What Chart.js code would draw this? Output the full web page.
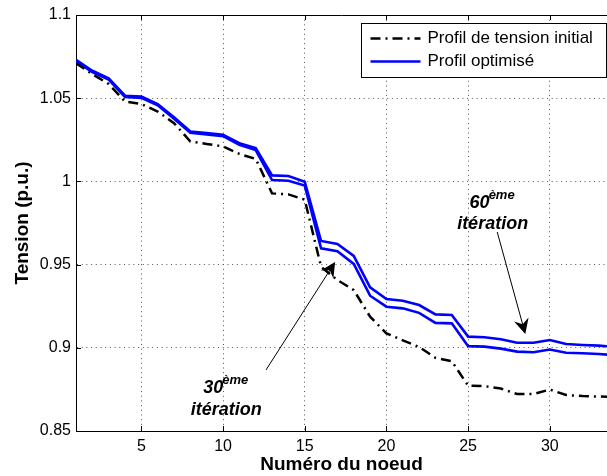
<!DOCTYPE html>
<html>
<head>
<meta charset="utf-8">
<title>Profil de tension</title>
<script src="https://cdn.jsdelivr.net/npm/chart.js@4.4.0/dist/chart.umd.min.js"></script>
<style>
  html, body { margin: 0; padding: 0; background: #fff; }
  #wrap { width: 607px; height: 476px; }
</style>
</head>
<body>
<div id="wrap"><canvas id="chart" width="607" height="476"></canvas></div>
<script>
// Numéro du noeud
const nodes = [1, 2, 3, 4, 5, 6, 7, 8, 9, 10, 11, 12, 13, 14, 15, 16, 17,
               18, 19, 20, 21, 22, 23, 24, 25, 26, 27, 28, 29, 30, 31, 32, 33, 34];

// Profil de tension initial (p.u.)
const initialProfile = [1.0710, 1.0645, 1.0585, 1.0480, 1.0465, 1.0420, 1.0350, 1.0240, 1.0225, 1.0210,
                        1.0165, 1.0135, 0.9928, 0.9922, 0.9890, 0.9487, 0.9407, 0.9347, 0.9187, 0.9087,
                        0.9045, 0.9005, 0.8940, 0.8920, 0.8772, 0.8770, 0.8755, 0.8722, 0.8722, 0.8749,
                        0.8716, 0.8710, 0.8707, 0.8705];

// Profil optimisé, 30ème itération
const optim30 = [1.0722, 1.0657, 1.0612, 1.0507, 1.0502, 1.0457, 1.0377, 1.0292, 1.0282, 1.0272,
                 1.0220, 1.0188, 1.0008, 1.0004, 0.9975, 0.9598, 0.9580, 0.9504, 0.9313, 0.9247,
                 0.9237, 0.9210, 0.9150, 0.9147, 0.9010, 0.9007, 0.8995, 0.8977, 0.8973, 0.8990,
                 0.8970, 0.8967, 0.8963, 0.8955];

// Profil optimisé, 60ème itération
const optim60 = [1.0730, 1.0665, 1.0620, 1.0515, 1.0510, 1.0465, 1.0385, 1.0300, 1.0290, 1.0280,
                 1.0230, 1.0200, 1.0036, 1.0032, 0.9998, 0.9642, 0.9624, 0.9552, 0.9363, 0.9293,
                 0.9283, 0.9257, 0.9201, 0.9197, 0.9067, 0.9063, 0.9051, 0.9030, 0.9030, 0.9047,
                 0.9023, 0.9017, 0.9013, 0.9005];

const xTicks = [5, 10, 15, 20, 25, 30];
const yTicks = [0.85, 0.9, 0.95, 1, 1.05, 1.1];
const yTickLabels = ['0.85', '0.9', '0.95', '1', '1.05', '1.1'];

// annotations (en coordonnées de données)
const notes = [
  { num: '60', text: 'itération', x: 26.5, yNum: 0.987, yText: 0.9744, from: [26.78, 0.9696], to: [28.5, 0.9083] },
  { num: '30', text: 'itération', x: 10.19, yNum: 0.8758, yText: 0.8626, from: [12.63, 0.8867], to: [16.86, 0.9516] }
];

const FONT = "'Liberation Sans', Arial, Helvetica, sans-serif";
Chart.defaults.font.family = FONT;
Chart.defaults.color = '#000';

function pts(ys) {
    return nodes.map((n, i) => ({ x: n, y: ys[i] }));
}

// cadre haut + graduations intérieures façon MATLAB
const boxPlugin = {
    id: 'matlabBox',
    afterDatasetsDraw(chart) {
        const ctx = chart.ctx, a = chart.chartArea;
        const xs = chart.scales.x, ys = chart.scales.y;
        ctx.save();
        ctx.strokeStyle = '#000';
        ctx.lineWidth = 1;
        ctx.beginPath();
        ctx.moveTo(a.left, a.top + 0.5);
        ctx.lineTo(a.right, a.top + 0.5);
        xTicks.forEach(v => {
            const px = Math.round(xs.getPixelForValue(v)) + 0.5;
            ctx.moveTo(px, a.bottom);
            ctx.lineTo(px, a.bottom - 5);
            ctx.moveTo(px, a.top);
            ctx.lineTo(px, a.top + 5);
        });
        yTicks.forEach(v => {
            const py = Math.round(ys.getPixelForValue(v)) + 0.5;
            ctx.moveTo(a.left, py);
            ctx.lineTo(a.left + 5, py);
        });
        ctx.stroke();
        ctx.restore();
    }
};

// flèches + textes "60ème itération" / "30ème itération"
const notePlugin = {
    id: 'notes',
    afterDatasetsDraw(chart) {
        const ctx = chart.ctx;
        const xs = chart.scales.x, ys = chart.scales.y;
        ctx.save();
        notes.forEach(n => {
            const x1 = xs.getPixelForValue(n.from[0]), y1 = ys.getPixelForValue(n.from[1]);
            const x2 = xs.getPixelForValue(n.to[0]), y2 = ys.getPixelForValue(n.to[1]);
            const ang = Math.atan2(y2 - y1, x2 - x1);
            const c = Math.cos(ang), s = Math.sin(ang);
            ctx.strokeStyle = '#000';
            ctx.lineWidth = 1;
            ctx.beginPath();
            ctx.moveTo(x1, y1);
            ctx.lineTo(x2 - 8 * c, y2 - 8 * s);
            ctx.stroke();
            // tête de flèche (vback2)
            const L = 15, W = 7.5, back = 10;
            ctx.fillStyle = '#000';
            ctx.beginPath();
            ctx.moveTo(x2, y2);
            ctx.lineTo(x2 - L * c + W * s, y2 - L * s - W * c);
            ctx.lineTo(x2 - back * c, y2 - back * s);
            ctx.lineTo(x2 - L * c - W * s, y2 - L * s + W * c);
            ctx.closePath();
            ctx.fill();

            // texte
            const cx = xs.getPixelForValue(n.x);
            ctx.textBaseline = 'middle';
            ctx.font = 'bold italic 18px ' + FONT;
            const wNum = ctx.measureText(n.num).width;
            ctx.font = 'bold italic 13px ' + FONT;
            const wSup = ctx.measureText('ème').width;
            const start = cx - (wNum + wSup) / 2;
            const yNum = ys.getPixelForValue(n.yNum);
            ctx.textAlign = 'left';
            ctx.font = 'bold italic 18px ' + FONT;
            ctx.fillText(n.num, start, yNum);
            ctx.font = 'bold italic 13px ' + FONT;
            ctx.fillText('ème', start + wNum - 1, yNum - 8);
            ctx.textAlign = 'center';
            ctx.font = 'bold italic 18px ' + FONT;
            ctx.fillText(n.text, cx, ys.getPixelForValue(n.yText));
        });
        ctx.restore();
    }
};

// légende encadrée dans le coin haut-droit
const legendPlugin = {
    id: 'boxLegend',
    afterDraw(chart) {
        const ctx = chart.ctx, a = chart.chartArea;
        const items = chart.data.datasets.filter(d => !d.hideInLegend);
        const w = 245, h = 54;
        const x0 = a.right - w - 0.5, y0 = a.top + 8.5;
        ctx.save();
        ctx.fillStyle = '#fff';
        ctx.fillRect(x0, y0, w, h);
        ctx.strokeStyle = '#000';
        ctx.lineWidth = 1;
        ctx.strokeRect(x0, y0, w, h);
        ctx.font = '17px ' + FONT;
        ctx.textBaseline = 'middle';
        ctx.textAlign = 'left';
        items.forEach((d, i) => {
            const y = y0 + 15 + i * 23;
            ctx.strokeStyle = d.borderColor;
            ctx.lineWidth = d.borderWidth;
            ctx.setLineDash(d.borderDash || []);
            ctx.beginPath();
            ctx.moveTo(x0 + 9, y);
            ctx.lineTo(x0 + 59, y);
            ctx.stroke();
            ctx.setLineDash([]);
            ctx.fillStyle = '#000';
            ctx.fillText(d.label, x0 + 66, y);
        });
        ctx.restore();
    }
};

new Chart(document.getElementById('chart'), {
    type: 'line',
    data: {
        datasets: [
            {
                label: 'Profil de tension initial',
                data: pts(initialProfile),
                borderColor: '#000000',
                borderWidth: 2.5,
                borderDash: [10, 5, 2, 5],
                pointRadius: 0,
                tension: 0,
                fill: false,
                order: 1
            },
            {
                label: 'Profil optimisé',
                data: pts(optim60),
                borderColor: '#0000ff',
                borderWidth: 2.6,
                pointRadius: 0,
                tension: 0,
                fill: false,
                order: 2
            },
            {
                label: 'Profil optimisé (30ème itération)',
                data: pts(optim30),
                borderColor: '#0000ff',
                borderWidth: 2.6,
                pointRadius: 0,
                tension: 0,
                fill: false,
                hideInLegend: true,
                order: 3
            }
        ]
    },
    options: {
        responsive: false,
        animation: false,
        devicePixelRatio: 1,
        layout: { padding: { top: 15, right: 0, left: 0, bottom: 0 } },
        plugins: {
            legend: { display: false },
            tooltip: { enabled: false }
        },
        scales: {
            x: {
                type: 'linear',
                min: 1,
                max: 33.5,
                afterBuildTicks: s => { s.ticks = xTicks.map(v => ({ value: v })); },
                afterFit: s => { s.height = 45; },
                grid: { color: '#555', lineWidth: 1, drawTicks: false },
                border: { display: true, color: '#000', width: 1, dash: [1, 3.7] },
                ticks: { font: { size: 16 }, padding: 6, maxRotation: 0, color: '#000' },
                title: {
                    display: true,
                    text: 'Numéro du noeud',
                    font: { size: 19, weight: 'bold' },
                    padding: { top: 0, bottom: 0 },
                    color: '#000'
                }
            },
            y: {
                min: 0.85,
                max: 1.1,
                afterBuildTicks: s => { s.ticks = yTicks.map(v => ({ value: v })); },
                afterFit: s => { s.width = 76; },
                grid: { color: '#555', lineWidth: 1, drawTicks: false },
                border: { display: true, color: '#000', width: 1, dash: [1, 3.7] },
                ticks: {
                    font: { size: 16 },
                    padding: 5,
                    color: '#000',
                    callback: (v) => {
                        const i = yTicks.findIndex(t => Math.abs(t - v) < 1e-9);
                        return i >= 0 ? yTickLabels[i] : '';
                    }
                },
                title: {
                    display: true,
                    text: 'Tension (p.u.)',
                    font: { size: 19, weight: 'bold' },
                    padding: { top: 11, bottom: 0 },
                    color: '#000'
                }
            }
        }
    },
    plugins: [boxPlugin, notePlugin, legendPlugin]
});
</script>
</body>
</html>
